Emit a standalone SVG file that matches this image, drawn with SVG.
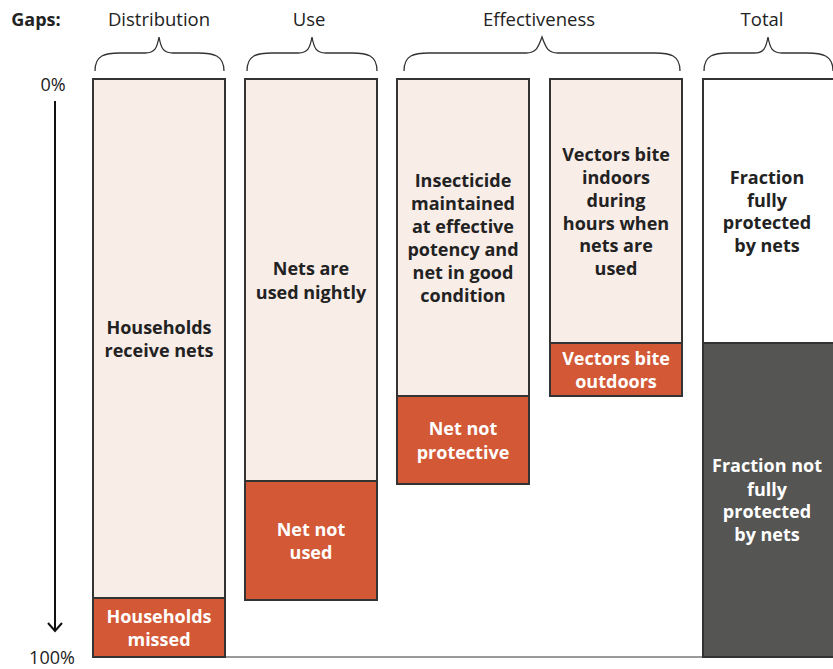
<svg xmlns="http://www.w3.org/2000/svg" width="833" height="669" viewBox="0 0 833 669">
<style>
.hdr{font-family:"Open Sans","Liberation Sans",sans-serif;font-size:18.5px;fill:#222;text-anchor:middle}
.pct{font-family:"Open Sans","Liberation Sans",sans-serif;font-size:18px;fill:#222;text-anchor:middle}
.lt{font-family:"Open Sans","Liberation Sans",sans-serif;font-size:18px;font-weight:bold;fill:#222;text-anchor:middle}
.wt{font-family:"Open Sans","Liberation Sans",sans-serif;font-size:18px;font-weight:bold;fill:#fff;text-anchor:middle}
.pink{fill:#f9ede8;stroke:#333;stroke-width:2}
.red{fill:#d35836;stroke:#333;stroke-width:2}
.white{fill:#fff;stroke:#333;stroke-width:2}
.dark{fill:#555553;stroke:#333;stroke-width:2}
.brace{fill:none;stroke:#333;stroke-width:1.3}
</style>
<defs>
<marker id="ah" markerWidth="20" markerHeight="20" refX="10" refY="10" orient="auto" markerUnits="userSpaceOnUse">
<path d="M2,3 L10,10 L2,17" fill="none" stroke="#111" stroke-width="2"/>
</marker>
</defs>
<text x="36" y="26" font-family="'Open Sans','Liberation Sans',sans-serif" font-size="18" font-weight="bold" fill="#222" text-anchor="middle">Gaps:</text>
<text class="hdr" x="159" y="26">Distribution</text>
<text class="hdr" x="309" y="26">Use</text>
<text class="hdr" x="539" y="26">Effectiveness</text>
<text class="hdr" x="762" y="26">Total</text>
<g id="braces">
<path class="brace" d="M95,71 C95,55 105,53 120,53 L145,53 C155,53 157,48 159,37 C161,48 163,53 173,53 L198,53 C213,53 224,55 224,71"/>
<path class="brace" d="M247,71 C247,55 257,53 272,53 L298,53 C308,53 310,48 312,37 C314,48 316,53 326,53 L352,53 C367,53 377,55 377,71"/>
<path class="brace" d="M404,71 C404,55 414,53 429,53 L526,53 C536,53 538,48 542,37 C546,48 548,53 558,53 L655,53 C670,53 680,55 680,71"/>
<path class="brace" d="M704,71 C704,55 714,53 729,53 L754,53 C764,53 766,48 768,37 C770,48 772,53 782,53 L807,53 C822,53 833,55 833,71"/>
</g>
<text class="pct" x="53" y="91">0%</text>
<text class="pct" x="52" y="664">100%</text>
<g id="connectors">
<line x1="55" y1="101" x2="55" y2="631" stroke="#111" stroke-width="2" marker-end="url(#ah)"/>
<line x1="225" y1="657" x2="703" y2="657" stroke="#777" stroke-width="1.5"/>
</g>
<g id="distribution">
<rect class="pink" x="93" y="79" width="132" height="519"/>
<text class="lt" x="159" y="334">Households</text>
<text class="lt" x="159" y="357">receive nets</text>
</g>
<g id="households-missed">
<rect class="red" x="93" y="598" width="132" height="59"/>
<text class="wt" x="159" y="623">Households</text>
<text class="wt" x="159" y="646">missed</text>
</g>
<g id="use">
<rect class="pink" x="245" y="79" width="132" height="402"/>
<text class="lt" x="311" y="275">Nets are</text>
<text class="lt" x="311" y="299">used nightly</text>
</g>
<g id="net-not-used">
<rect class="red" x="245" y="481" width="132" height="119"/>
<text class="wt" x="311" y="536">Net not</text>
<text class="wt" x="311" y="559">used</text>
</g>
<g id="insecticide">
<rect class="pink" x="397" y="79" width="132" height="317"/>
<text class="lt" x="463" y="187">Insecticide</text>
<text class="lt" x="463" y="210">maintained</text>
<text class="lt" x="463" y="233">at effective</text>
<text class="lt" x="463" y="256">potency and</text>
<text class="lt" x="463" y="279">net in good</text>
<text class="lt" x="463" y="302">condition</text>
</g>
<g id="net-not-protective">
<rect class="red" x="397" y="396" width="132" height="88"/>
<text class="wt" x="463" y="435">Net not</text>
<text class="wt" x="463" y="459">protective</text>
</g>
<g id="indoors">
<rect class="pink" x="550" y="79" width="132" height="264"/>
<text class="lt" x="616" y="161">Vectors bite</text>
<text class="lt" x="616" y="184">indoors</text>
<text class="lt" x="616" y="207">during</text>
<text class="lt" x="616" y="230">hours when</text>
<text class="lt" x="616" y="252">nets are</text>
<text class="lt" x="616" y="275">used</text>
</g>
<g id="outdoors">
<rect class="red" x="550" y="343" width="132" height="53"/>
<text class="wt" x="616" y="365">Vectors bite</text>
<text class="wt" x="616" y="388">outdoors</text>
</g>
<g id="protected">
<rect class="white" x="703" y="79" width="140" height="264"/>
<text class="lt" x="767" y="184">Fraction</text>
<text class="lt" x="767" y="207">fully</text>
<text class="lt" x="767" y="229">protected</text>
<text class="lt" x="767" y="252">by nets</text>
</g>
<g id="not-protected">
<rect class="dark" x="703" y="343" width="140" height="314"/>
<text class="wt" x="767" y="472">Fraction not</text>
<text class="wt" x="767" y="496">fully</text>
<text class="wt" x="767" y="518">protected</text>
<text class="wt" x="767" y="541">by nets</text>
</g>
</svg>
